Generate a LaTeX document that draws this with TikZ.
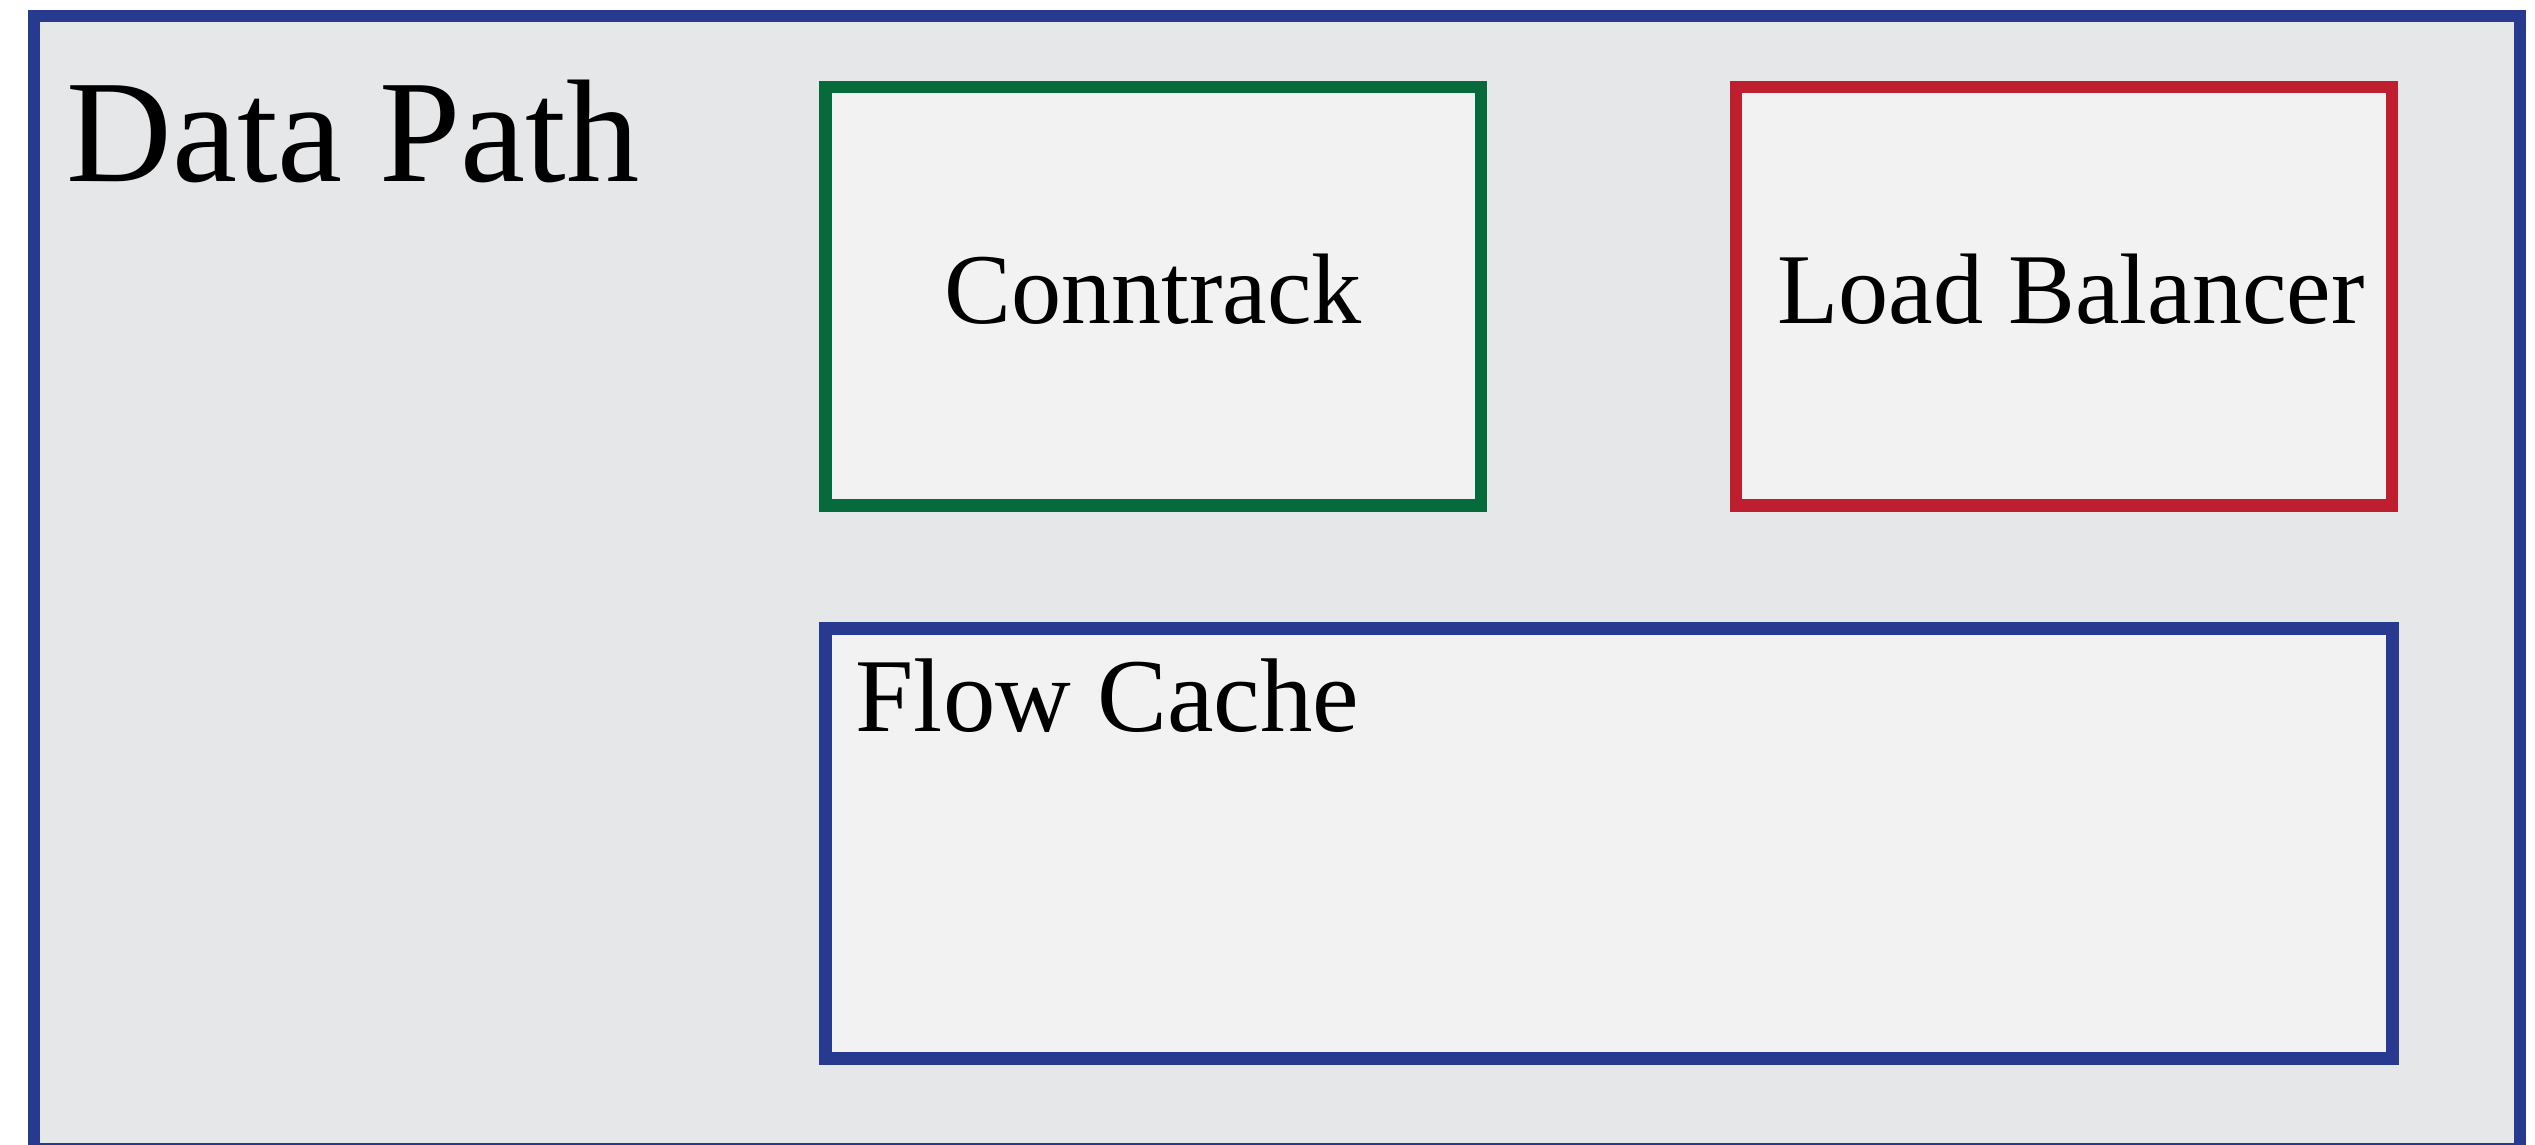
\documentclass[tikz,border=0pt]{standalone}
\usepackage{fontspec}
\setmainfont{Liberation Serif}
\definecolor{frameblue}{HTML}{283A90}
\definecolor{boxgreen}{HTML}{066A3A}
\definecolor{boxred}{HTML}{BF1E2E}
\definecolor{outerfill}{HTML}{E6E7E9}
\definecolor{innerfill}{HTML}{F2F2F2}
\tikzset{
  unitbox/.style={draw, fill=innerfill, line width=3.6pt, inner sep=0pt, outer sep=0pt},
  label28/.style={font=\fontsize{28.5pt}{34pt}\selectfont, inner sep=0pt, anchor=base},
}
\begin{document}
\begin{tikzpicture}[x=0.01cm, y=-0.01cm]
  \useasboundingbox (0,0) rectangle (2535,1145);
  % enclosing data path frame
  \node[draw=frameblue, fill=outerfill, line width=3.4pt, inner sep=0pt, outer sep=0pt,
        minimum width=24.845cm, minimum height=11.32cm, anchor=north west]
        (datapath) at (34,16) {};
  \node[font=\fontsize{41.6pt}{48pt}\selectfont, inner sep=0pt, anchor=base west]
        (dptitle) at (66,181) {Data Path};
  % component boxes
  \node[unitbox, draw=boxgreen, minimum width=6.55cm, minimum height=4.18cm,
        anchor=north west] (conntrack) at (825.5,87) {};
  \node[unitbox, draw=boxred, minimum width=6.555cm, minimum height=4.18cm,
        anchor=north west] (lb) at (1736,87) {};
  \node[unitbox, draw=frameblue, minimum width=15.66cm, minimum height=4.30cm,
        anchor=north west] (flowcache) at (825.5,628.5) {};
  % box labels
  \node[label28] (conntracklbl) at (conntrack.center |- 0,323) {Conntrack};
  \node[label28] (lblbl) at (2071,323) {Load Balancer};
  \node[label28, font=\fontsize{29.8pt}{35pt}\selectfont, anchor=base west]
        (flowcachelbl) at (855,731) {Flow Cache};
\end{tikzpicture}
\end{document}
